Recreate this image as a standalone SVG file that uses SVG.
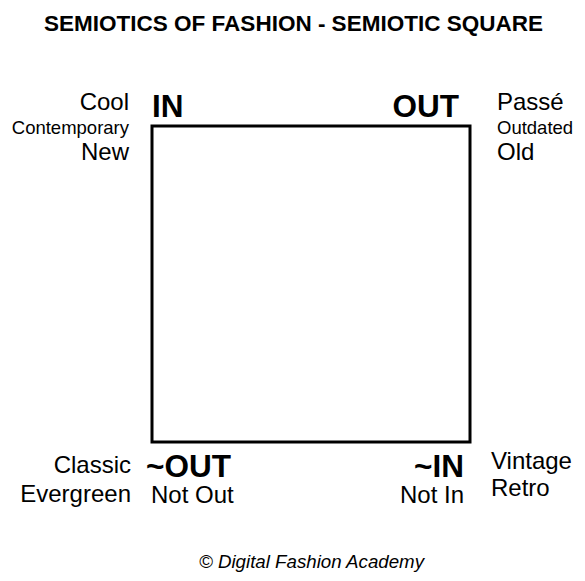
<svg xmlns="http://www.w3.org/2000/svg" width="585" height="581" viewBox="0 0 585 581">
<style>
text{font-family:"Liberation Sans",Arial,sans-serif;fill:#000}
.t{font-size:22.5px;font-weight:bold}
.k{font-size:31.5px;font-weight:bold}
.l{font-size:24px}
.s{font-size:18.5px}
.f{font-size:18.7px;font-style:italic}
</style>
<rect width="585" height="581" fill="#fff"/>
<text class="t" x="293.5" y="31" text-anchor="middle">SEMIOTICS OF FASHION - SEMIOTIC SQUARE</text>
<g id="square"><rect x="152" y="126" width="318" height="316" fill="none" stroke="#000" stroke-width="3"/></g>
<g id="in">
<text class="k" x="152" y="117">IN</text>
<text class="l" x="129" y="110" text-anchor="end">Cool</text>
<text class="s" x="129" y="134" text-anchor="end">Contemporary</text>
<text class="l" x="129" y="160" text-anchor="end">New</text>
</g>
<g id="out">
<text class="k" x="459" y="117" text-anchor="end">OUT</text>
<text class="l" x="497" y="110">Passé</text>
<text class="s" x="497" y="134">Outdated</text>
<text class="l" x="497" y="160">Old</text>
</g>
<g id="notout">
<text class="k" x="146" y="477">~OUT</text>
<text class="l" x="151" y="503">Not Out</text>
<text class="l" x="131" y="473" text-anchor="end">Classic</text>
<text class="l" x="131" y="502" text-anchor="end">Evergreen</text>
</g>
<g id="notin">
<text class="k" x="464" y="477" text-anchor="end">~IN</text>
<text class="l" x="464" y="503" text-anchor="end">Not In</text>
<text class="l" x="491" y="469">Vintage</text>
<text class="l" x="491" y="496">Retro</text>
</g>
<text class="f" x="311.5" y="568" text-anchor="middle">© Digital Fashion Academy</text>
</svg>
